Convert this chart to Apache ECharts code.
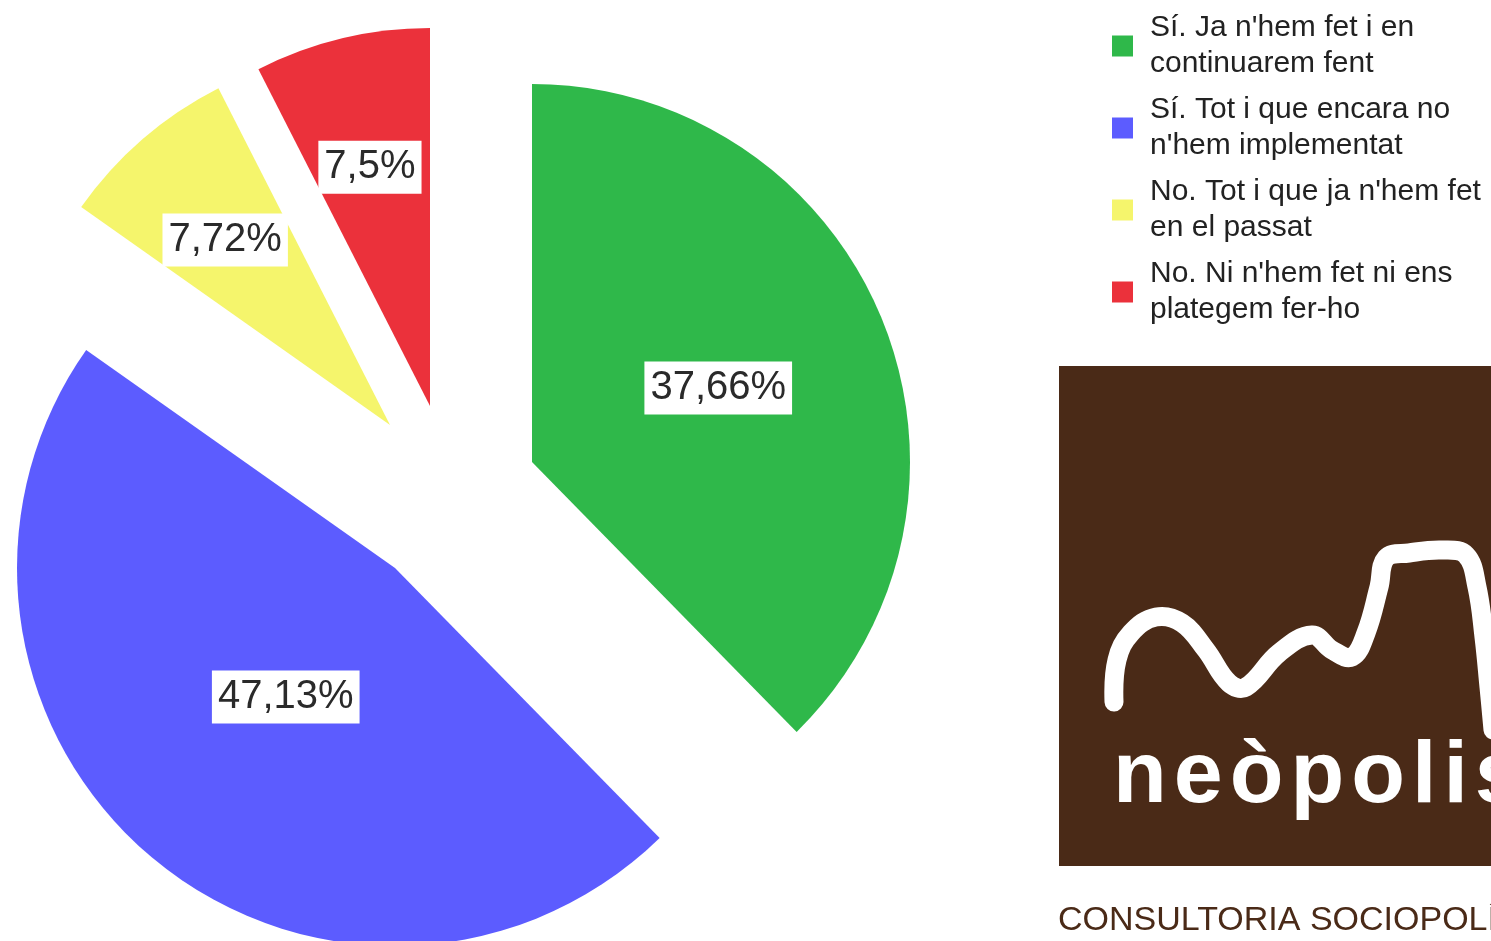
<!DOCTYPE html>
<html lang="ca">
<head>
    <meta charset="UTF-8">
    <title>Pie</title>
    <style>
        html, body { margin: 0; padding: 0; background: #fff; }
        #container { width: 1491px; height: 941px; }
    </style>
</head>
<body>
<div id="container"></div>
<script src="https://cdn.jsdelivr.net/npm/echarts@6/dist/echarts.min.js"></script>
<script type="text/javascript">
    var categories = [
        "Sí. Ja n'hem fet i en continuarem fent",
        "Sí. Tot i que encara no n'hem implementat",
        "No. Tot i que ja n'hem fet en el passat",
        "No. Ni n'hem fet ni ens plategem fer-ho"
    ];
    var legendLines = [
        "Sí. Ja n'hem fet i en\ncontinuarem fent",
        "Sí. Tot i que encara no\nn'hem implementat",
        "No. Tot i que ja n'hem fet\nen el passat",
        "No. Ni n'hem fet ni ens\nplategem fer-ho"
    ];
    var values = [37.66, 47.13, 7.72, 7.5];

    var colors = ['#2fb84a', '#5c5cff', '#f5f56c', '#eb313b'];
    // each slice is pulled out on its own, so each gets its own centre
    var centers = [[532, 462], [395, 568], [390, 425], [430, 406]];
    var labelFrac = [0.53, 0.43, 0.65, 0.65];
    var R = 378;

    var total = values.reduce(function (a, b) { return a + b; }, 0);
    function midAngle(i) {
        var s = 0;
        for (var k = 0; k < i; k++) s += values[k];
        return (s + values[i] / 2) / total * 2 * Math.PI;
    }

    var series = categories.map(function (_, si) {
        return {
            type: 'pie',
            center: centers[si],
            radius: R,
            startAngle: 90,
            clockwise: true,
            animation: false,
            silent: true,
            avoidLabelOverlap: false,
            labelLine: {show: false},
            emphasis: {disabled: true},
            label: {show: false},
            labelLayout: function (p) {
                var a = midAngle(p.dataIndex);
                var d = (labelFrac[p.dataIndex] - 0.5) * R;
                return {dx: Math.sin(a) * d - 2, dy: -Math.cos(a) * d + 3};
            },
            data: categories.map(function (name, di) {
                var own = di === si;
                return {
                    name: name,
                    value: values[di],
                    itemStyle: {color: own ? colors[di] : 'transparent'},
                    label: own ? {
                        show: true,
                        position: 'inside',
                        formatter: function (p) {
                            return String(p.value).replace('.', ',') + '%';
                        },
                        fontFamily: 'Liberation Sans',
                        fontSize: 40,
                        color: '#2a2a2a',
                        backgroundColor: '#fff',
                        padding: [8, 6, 5, 6]
                    } : {show: false}
                };
            })
        };
    });

    // logo, drawn letter by letter to get the wide tracking
    var measure = document.createElement('canvas').getContext('2d');
    function spacedText(str, x, y, font, spacing, fill) {
        measure.font = font;
        var els = [];
        for (var i = 0; i < str.length; i++) {
            els.push({
                type: 'text', x: x, y: y,
                style: {text: str[i], font: font, fill: fill, verticalAlign: 'middle'}
            });
            x += measure.measureText(str[i]).width + spacing;
        }
        return els;
    }

    var brush = [[1114, 702], [1117, 660], [1131, 633], [1156, 617], [1182, 623], [1206, 650],
        [1229, 683], [1246, 687], [1279, 653], [1312, 635], [1332, 650], [1352, 657], [1366, 633],
        [1379, 587], [1386, 558], [1409, 553], [1442, 550], [1466, 555], [1477, 587], [1484, 637],
        [1489, 687], [1493, 730]];

    var graphic = [
        {type: 'rect', shape: {x: 1059, y: 366, width: 440, height: 500}, style: {fill: '#4a2a17'}},
        {type: 'polyline', shape: {points: brush, smooth: 0.4},
            style: {stroke: '#fff', lineWidth: 19, lineCap: 'round', lineJoin: 'round', fill: null}},
        {type: 'text', x: 1058, y: 921,
            style: {text: 'CONSULTORIA SOCIOPOLÍTICA', font: '34px "Liberation Sans"', fill: '#4a2a17', verticalAlign: 'middle'}}
    ].concat(spacedText('neòpolis', 1113, 778, 'bold 88px "Liberation Sans"', 7, '#fff'));

    var option = {
        backgroundColor: '#fff',
        legend: {
            orient: 'vertical',
            left: 1107,
            top: 5,
            icon: 'rect',
            itemWidth: 21,
            itemHeight: 21,
            itemGap: 10,
            selectedMode: false,
            data: categories.map(function (n, i) {
                return {name: n, itemStyle: {color: colors[i]}};
            }),
            formatter: function (name) {
                return legendLines[categories.indexOf(name)];
            },
            textStyle: {
                fontFamily: 'Liberation Sans',
                fontSize: 30,
                lineHeight: 36,
                color: '#222',
                padding: [0, 0, 0, 12]
            }
        },
        graphic: graphic,
        series: series
    };

    var myChart = echarts.init(document.getElementById('container'));
    myChart.setOption(option);
</script>
</body>
</html>
